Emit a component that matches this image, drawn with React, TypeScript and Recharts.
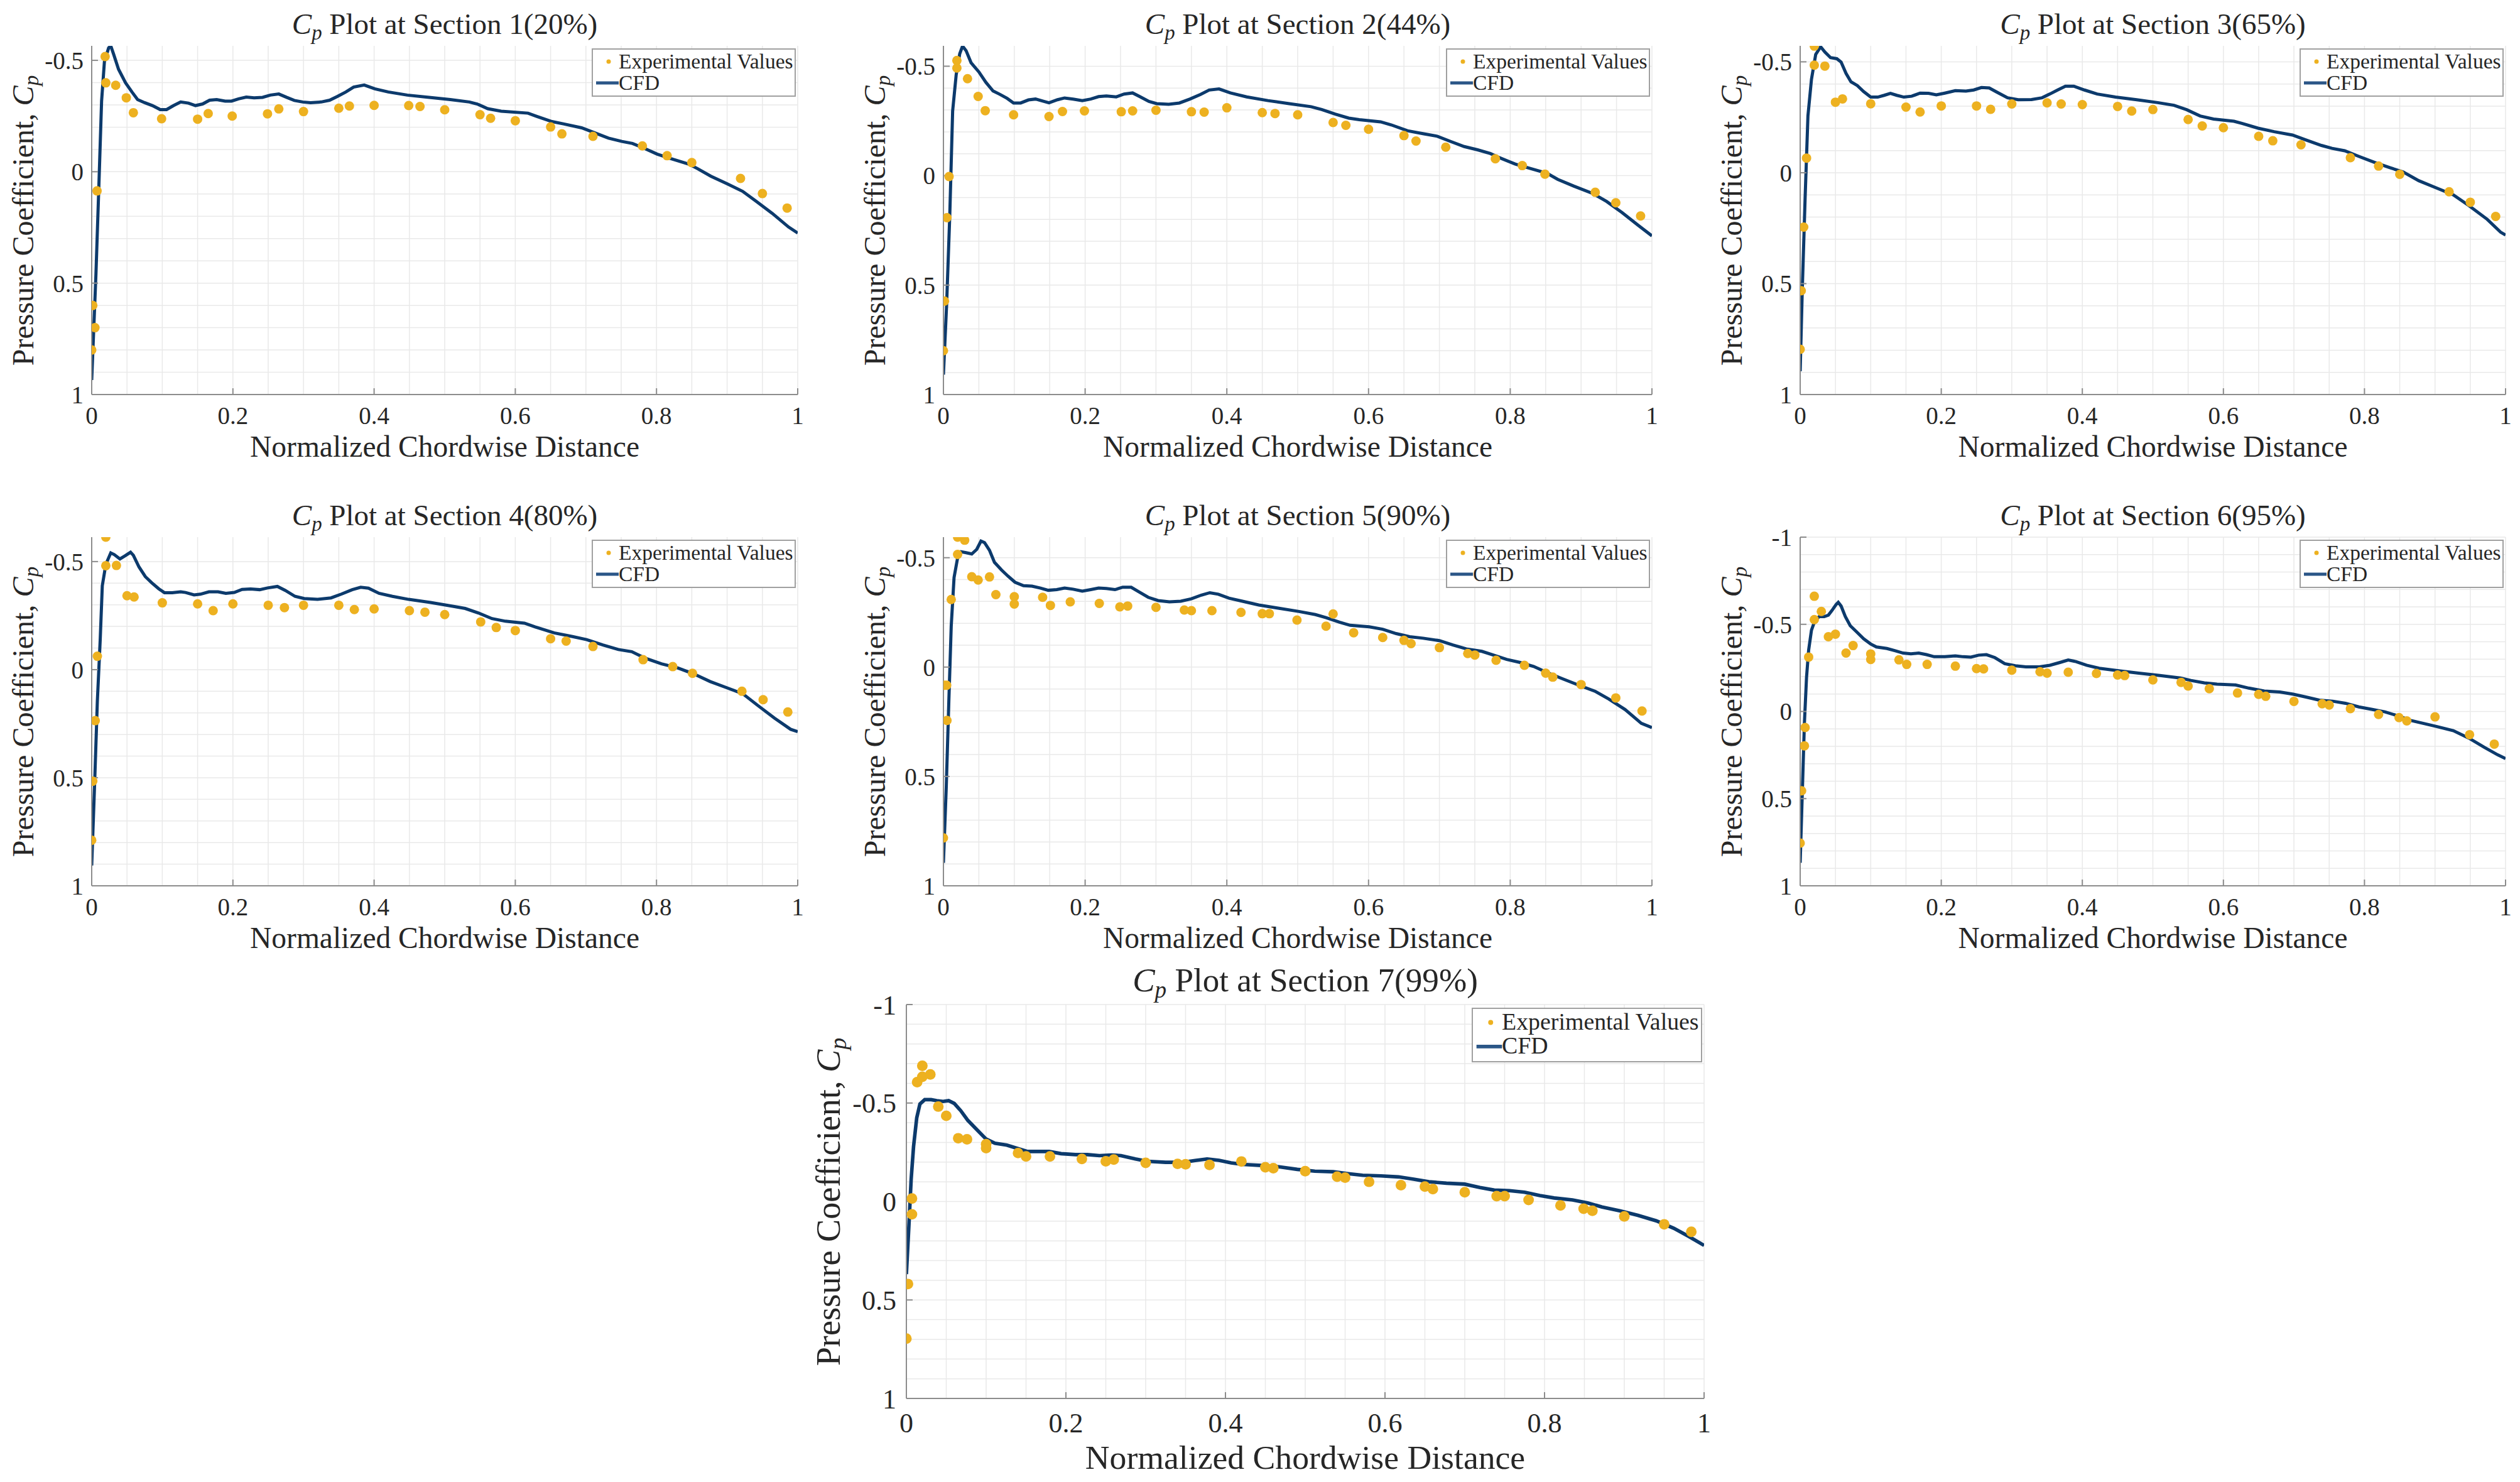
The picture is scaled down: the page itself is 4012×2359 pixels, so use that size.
import { ComposedChart, Line, Scatter, XAxis, YAxis, CartesianGrid } from "recharts";

type Pair = [number, number];

// ---- data (x = normalized chord, cp = pressure coefficient) ----
const sectionNames = [
  "Section 1(20%)",
  "Section 2(44%)",
  "Section 3(65%)",
  "Section 4(80%)",
  "Section 5(90%)",
  "Section 6(95%)",
  "Section 7(99%)",
];

const exp1: Pair[] = [
  [0, 0.8], [0.0046, 0.7], [0.0015, 0.6], [0.0076, 0.086], [0.019, -0.517], [0.02, -0.399],
  [0.034, -0.388], [0.049, -0.332], [0.059, -0.265], [0.099, -0.238], [0.15, -0.236], [0.165, -0.261],
  [0.199, -0.25], [0.249, -0.26], [0.265, -0.282], [0.3, -0.27], [0.35, -0.285], [0.365, -0.295],
  [0.4, -0.298], [0.449, -0.297], [0.465, -0.293], [0.5, -0.278], [0.55, -0.256], [0.565, -0.24],
  [0.6, -0.229], [0.65, -0.201], [0.666, -0.17], [0.71, -0.159], [0.78, -0.116], [0.815, -0.072],
  [0.85, -0.041], [0.919, 0.03], [0.95, 0.098], [0.985, 0.163],
];
const cfd1: Pair[] = [
  [0, 0.935], [0.006, 0.46], [0.01, 0.078], [0.014, -0.317], [0.018, -0.494], [0.024, -0.556],
  [0.027, -0.565], [0.031, -0.528], [0.038, -0.46], [0.048, -0.399], [0.057, -0.358], [0.065, -0.324],
  [0.075, -0.31], [0.086, -0.297], [0.097, -0.279], [0.106, -0.279], [0.116, -0.297], [0.126, -0.313],
  [0.137, -0.308], [0.147, -0.297], [0.157, -0.304], [0.167, -0.321], [0.177, -0.324], [0.189, -0.317],
  [0.198, -0.317], [0.208, -0.327], [0.219, -0.335], [0.23, -0.332], [0.242, -0.334], [0.253, -0.344],
  [0.265, -0.349], [0.276, -0.334], [0.287, -0.32], [0.299, -0.313], [0.31, -0.31], [0.325, -0.313],
  [0.337, -0.321], [0.348, -0.338], [0.36, -0.358], [0.371, -0.38], [0.386, -0.389], [0.401, -0.372],
  [0.42, -0.358], [0.447, -0.344], [0.478, -0.334], [0.508, -0.324], [0.535, -0.313], [0.546, -0.304],
  [0.561, -0.283], [0.58, -0.272], [0.618, -0.263], [0.63, -0.249], [0.652, -0.225], [0.668, -0.215],
  [0.694, -0.197], [0.713, -0.174], [0.732, -0.151], [0.751, -0.136], [0.766, -0.127], [0.782, -0.106],
  [0.801, -0.079], [0.82, -0.059], [0.846, -0.034], [0.858, -0.014], [0.877, 0.02], [0.9, 0.054],
  [0.922, 0.088], [0.941, 0.132], [0.964, 0.187], [0.987, 0.248], [1, 0.275],
];

const exp2: Pair[] = [
  [0, 0.8], [0.0015, 0.573], [0.005, 0.192], [0.008, 0.004], [0.019, -0.526], [0.019, -0.492],
  [0.034, -0.443], [0.049, -0.362], [0.059, -0.297], [0.099, -0.278], [0.149, -0.27], [0.168, -0.293],
  [0.199, -0.296], [0.251, -0.292], [0.267, -0.296], [0.3, -0.299], [0.35, -0.292], [0.368, -0.29],
  [0.4, -0.31], [0.45, -0.288], [0.468, -0.284], [0.5, -0.278], [0.55, -0.243], [0.568, -0.23],
  [0.6, -0.212], [0.65, -0.183], [0.667, -0.158], [0.709, -0.13], [0.779, -0.077], [0.817, -0.046],
  [0.849, -0.007], [0.92, 0.076], [0.949, 0.124], [0.984, 0.184],
];
const cfd2: Pair[] = [
  [0, 0.909], [0.0045, 0.59], [0.009, 0.176], [0.013, -0.295], [0.018, -0.461], [0.023, -0.557],
  [0.027, -0.592], [0.032, -0.571], [0.039, -0.516], [0.05, -0.474], [0.06, -0.426], [0.07, -0.387],
  [0.08, -0.371], [0.09, -0.353], [0.099, -0.332], [0.109, -0.332], [0.12, -0.346], [0.13, -0.35],
  [0.141, -0.34], [0.149, -0.333], [0.161, -0.347], [0.171, -0.355], [0.183, -0.35], [0.196, -0.343],
  [0.208, -0.35], [0.219, -0.361], [0.23, -0.364], [0.244, -0.36], [0.255, -0.373], [0.267, -0.378],
  [0.278, -0.36], [0.29, -0.339], [0.301, -0.329], [0.318, -0.326], [0.333, -0.332], [0.348, -0.35],
  [0.363, -0.371], [0.375, -0.391], [0.389, -0.396], [0.405, -0.378], [0.428, -0.36], [0.458, -0.343],
  [0.488, -0.329], [0.519, -0.315], [0.534, -0.302], [0.553, -0.281], [0.572, -0.263], [0.587, -0.256],
  [0.617, -0.246], [0.632, -0.232], [0.655, -0.205], [0.678, -0.191], [0.697, -0.18], [0.716, -0.156],
  [0.735, -0.133], [0.754, -0.118], [0.772, -0.101], [0.784, -0.083], [0.807, -0.053], [0.829, -0.032],
  [0.852, -0.011], [0.867, 0.017], [0.89, 0.048], [0.917, 0.082], [0.936, 0.118], [0.958, 0.169],
  [0.981, 0.228], [1, 0.275],
];

const exp3: Pair[] = [
  [0, 0.796], [0.0015, 0.532], [0.005, 0.245], [0.009, -0.066], [0.02, -0.571], [0.02, -0.485],
  [0.035, -0.481], [0.05, -0.318], [0.06, -0.333], [0.1, -0.311], [0.15, -0.296], [0.17, -0.274],
  [0.2, -0.301], [0.25, -0.301], [0.27, -0.286], [0.3, -0.31], [0.35, -0.315], [0.37, -0.31],
  [0.4, -0.307], [0.45, -0.299], [0.47, -0.278], [0.5, -0.285], [0.55, -0.24], [0.57, -0.211],
  [0.6, -0.203], [0.65, -0.164], [0.67, -0.144], [0.71, -0.126], [0.78, -0.068], [0.82, -0.03],
  [0.85, 0.007], [0.92, 0.086], [0.95, 0.133], [0.986, 0.197],
];
const cfd3: Pair[] = [
  [0, 0.895], [0.003, 0.525], [0.007, 0.114], [0.011, -0.256], [0.016, -0.421], [0.022, -0.533],
  [0.029, -0.568], [0.035, -0.544], [0.043, -0.519], [0.052, -0.514], [0.058, -0.499], [0.065, -0.448],
  [0.072, -0.41], [0.081, -0.393], [0.09, -0.366], [0.1, -0.341], [0.11, -0.341], [0.119, -0.349],
  [0.128, -0.358], [0.137, -0.349], [0.147, -0.341], [0.158, -0.345], [0.17, -0.359], [0.182, -0.358],
  [0.193, -0.351], [0.205, -0.359], [0.22, -0.37], [0.235, -0.368], [0.246, -0.373], [0.257, -0.384],
  [0.268, -0.382], [0.279, -0.363], [0.294, -0.338], [0.309, -0.329], [0.328, -0.33], [0.343, -0.338],
  [0.354, -0.355], [0.365, -0.373], [0.376, -0.39], [0.388, -0.39], [0.403, -0.373], [0.421, -0.355],
  [0.447, -0.341], [0.477, -0.329], [0.507, -0.316], [0.53, -0.304], [0.548, -0.284], [0.567, -0.256],
  [0.586, -0.242], [0.615, -0.232], [0.627, -0.222], [0.649, -0.201], [0.672, -0.185], [0.698, -0.17],
  [0.716, -0.149], [0.739, -0.123], [0.754, -0.11], [0.772, -0.099], [0.791, -0.075], [0.814, -0.047],
  [0.836, -0.023], [0.855, -0.003], [0.877, 0.036], [0.9, 0.066], [0.926, 0.1], [0.948, 0.148],
  [0.974, 0.21], [0.993, 0.268], [1, 0.281],
];

const exp4: Pair[] = [
  [0, 0.789], [0.0015, 0.516], [0.005, 0.236], [0.008, -0.062], [0.02, -0.613], [0.02, -0.481],
  [0.035, -0.482], [0.05, -0.342], [0.06, -0.336], [0.1, -0.309], [0.15, -0.304], [0.172, -0.273],
  [0.2, -0.304], [0.25, -0.298], [0.273, -0.287], [0.3, -0.298], [0.35, -0.298], [0.372, -0.278],
  [0.4, -0.281], [0.45, -0.273], [0.472, -0.266], [0.5, -0.255], [0.551, -0.221], [0.573, -0.195],
  [0.6, -0.181], [0.65, -0.143], [0.672, -0.132], [0.71, -0.107], [0.781, -0.046], [0.823, -0.014],
  [0.851, 0.017], [0.921, 0.1], [0.951, 0.139], [0.986, 0.196],
];
const cfd4: Pair[] = [
  [0, 0.906], [0.004, 0.54], [0.008, 0.146], [0.012, -0.135], [0.015, -0.388], [0.02, -0.487],
  [0.027, -0.54], [0.032, -0.532], [0.04, -0.512], [0.047, -0.526], [0.055, -0.543], [0.059, -0.529],
  [0.067, -0.475], [0.076, -0.43], [0.085, -0.402], [0.095, -0.374], [0.103, -0.356], [0.114, -0.356],
  [0.126, -0.36], [0.133, -0.357], [0.145, -0.346], [0.154, -0.349], [0.166, -0.36], [0.179, -0.36],
  [0.19, -0.353], [0.202, -0.357], [0.213, -0.371], [0.225, -0.373], [0.238, -0.37], [0.249, -0.378],
  [0.263, -0.385], [0.274, -0.367], [0.288, -0.339], [0.301, -0.329], [0.32, -0.325], [0.339, -0.332],
  [0.354, -0.35], [0.369, -0.37], [0.381, -0.381], [0.392, -0.377], [0.407, -0.353], [0.426, -0.339],
  [0.449, -0.325], [0.48, -0.311], [0.51, -0.294], [0.529, -0.283], [0.548, -0.262], [0.567, -0.236],
  [0.586, -0.224], [0.613, -0.215], [0.628, -0.198], [0.655, -0.17], [0.681, -0.153], [0.701, -0.139],
  [0.724, -0.114], [0.746, -0.093], [0.765, -0.083], [0.784, -0.053], [0.807, -0.027], [0.83, -0.008],
  [0.853, 0.02], [0.876, 0.055], [0.899, 0.083], [0.922, 0.111], [0.944, 0.167], [0.967, 0.224],
  [0.99, 0.276], [1, 0.287],
];

const exp5: Pair[] = [
  [0, 0.781], [0.0015, 0.083], [0.0046, 0.083], [0.005, 0.244], [0.011, -0.309], [0.02, -0.594],
  [0.02, -0.515], [0.03, -0.58], [0.04, -0.413], [0.049, -0.398], [0.065, -0.412], [0.074, -0.331],
  [0.1, -0.322], [0.1, -0.288], [0.14, -0.319], [0.151, -0.282], [0.179, -0.298], [0.22, -0.291],
  [0.249, -0.275], [0.26, -0.279], [0.3, -0.273], [0.34, -0.261], [0.35, -0.258], [0.379, -0.258],
  [0.42, -0.25], [0.45, -0.244], [0.46, -0.244], [0.499, -0.215], [0.54, -0.187], [0.55, -0.243],
  [0.579, -0.157], [0.62, -0.135], [0.65, -0.122], [0.66, -0.107], [0.7, -0.089], [0.74, -0.062],
  [0.75, -0.055], [0.78, -0.031], [0.82, -0.008], [0.85, 0.028], [0.86, 0.046], [0.9, 0.08],
  [0.949, 0.141], [0.986, 0.201],
];
const cfd5: Pair[] = [
  [0, 0.895], [0.004, 0.548], [0.0076, 0.16], [0.011, -0.187], [0.015, -0.409], [0.02, -0.499],
  [0.025, -0.527], [0.032, -0.523], [0.04, -0.517], [0.047, -0.538], [0.053, -0.576], [0.058, -0.569],
  [0.065, -0.534], [0.072, -0.479], [0.082, -0.444], [0.091, -0.416], [0.101, -0.388], [0.113, -0.372],
  [0.125, -0.37], [0.137, -0.361], [0.148, -0.351], [0.16, -0.354], [0.171, -0.361], [0.183, -0.356],
  [0.196, -0.347], [0.208, -0.354], [0.219, -0.361], [0.23, -0.359], [0.242, -0.354], [0.253, -0.365],
  [0.265, -0.365], [0.276, -0.344], [0.289, -0.319], [0.303, -0.304], [0.319, -0.298], [0.335, -0.301],
  [0.35, -0.312], [0.364, -0.329], [0.376, -0.34], [0.388, -0.333], [0.403, -0.315], [0.422, -0.301],
  [0.445, -0.284], [0.471, -0.27], [0.502, -0.254], [0.525, -0.24], [0.54, -0.226], [0.559, -0.205],
  [0.574, -0.191], [0.601, -0.184], [0.62, -0.173], [0.639, -0.153], [0.658, -0.139], [0.677, -0.132],
  [0.7, -0.121], [0.719, -0.101], [0.738, -0.083], [0.76, -0.072], [0.776, -0.055], [0.795, -0.035],
  [0.814, -0.021], [0.833, -0.003], [0.852, 0.025], [0.875, 0.055], [0.897, 0.083], [0.92, 0.111],
  [0.939, 0.146], [0.962, 0.194], [0.985, 0.257], [1, 0.277],
];

const exp6: Pair[] = [
  [0, 0.755], [0.002, 0.455], [0.006, 0.197], [0.007, 0.092], [0.012, -0.312], [0.02, -0.661],
  [0.02, -0.527], [0.03, -0.574], [0.04, -0.429], [0.05, -0.443], [0.065, -0.335], [0.075, -0.378],
  [0.1, -0.33], [0.1, -0.298], [0.14, -0.296], [0.151, -0.27], [0.18, -0.27], [0.22, -0.26],
  [0.25, -0.246], [0.26, -0.244], [0.3, -0.237], [0.34, -0.228], [0.35, -0.22], [0.38, -0.225],
  [0.42, -0.218], [0.45, -0.209], [0.46, -0.206], [0.5, -0.181], [0.54, -0.167], [0.55, -0.146],
  [0.58, -0.131], [0.62, -0.106], [0.65, -0.098], [0.66, -0.087], [0.7, -0.058], [0.74, -0.044],
  [0.75, -0.037], [0.78, -0.016], [0.82, 0.017], [0.849, 0.035], [0.86, 0.054], [0.9, 0.031],
  [0.949, 0.133], [0.984, 0.187],
];
const cfd6: Pair[] = [
  [0, 0.868], [0.003, 0.467], [0.006, 0.066], [0.009, -0.195], [0.012, -0.352], [0.016, -0.466],
  [0.021, -0.523], [0.027, -0.544], [0.034, -0.544], [0.04, -0.553], [0.045, -0.579], [0.051, -0.614],
  [0.054, -0.626], [0.058, -0.605], [0.064, -0.544], [0.071, -0.492], [0.08, -0.457], [0.09, -0.417],
  [0.1, -0.387], [0.108, -0.37], [0.123, -0.361], [0.134, -0.349], [0.146, -0.335], [0.157, -0.331],
  [0.168, -0.335], [0.179, -0.326], [0.19, -0.314], [0.205, -0.314], [0.22, -0.319], [0.231, -0.314],
  [0.242, -0.312], [0.253, -0.323], [0.264, -0.326], [0.276, -0.309], [0.29, -0.274], [0.305, -0.262],
  [0.32, -0.256], [0.339, -0.256], [0.354, -0.265], [0.369, -0.282], [0.38, -0.295], [0.391, -0.286],
  [0.406, -0.265], [0.424, -0.248], [0.45, -0.234], [0.48, -0.22], [0.51, -0.206], [0.539, -0.192],
  [0.554, -0.178], [0.573, -0.164], [0.591, -0.157], [0.617, -0.152], [0.636, -0.134], [0.658, -0.117],
  [0.68, -0.112], [0.699, -0.099], [0.718, -0.082], [0.736, -0.065], [0.755, -0.059], [0.773, -0.047],
  [0.792, -0.026], [0.811, -0.012], [0.829, 0.002], [0.848, 0.026], [0.866, 0.052], [0.885, 0.07],
  [0.903, 0.087], [0.926, 0.11], [0.948, 0.153], [0.97, 0.206], [0.989, 0.249], [1, 0.27],
];

const exp7: Pair[] = [
  [0, 0.696], [0.002, 0.419], [0.007, 0.065], [0.007, -0.015], [0.0135, -0.606], [0.02, -0.689],
  [0.02, -0.633], [0.03, -0.645], [0.04, -0.482], [0.05, -0.435], [0.065, -0.321], [0.076, -0.316],
  [0.1, -0.291], [0.1, -0.271], [0.14, -0.246], [0.15, -0.229], [0.18, -0.229], [0.22, -0.216],
  [0.25, -0.204], [0.26, -0.213], [0.3, -0.196], [0.34, -0.191], [0.35, -0.189], [0.38, -0.186],
  [0.42, -0.203], [0.45, -0.174], [0.46, -0.169], [0.5, -0.154], [0.54, -0.126], [0.55, -0.121],
  [0.58, -0.1], [0.62, -0.083], [0.65, -0.076], [0.66, -0.063], [0.7, -0.047], [0.74, -0.027],
  [0.75, -0.027], [0.78, -0.008], [0.82, 0.02], [0.849, 0.037], [0.86, 0.047], [0.9, 0.076],
  [0.95, 0.116], [0.984, 0.154],
];
const cfd7: Pair[] = [
  [0, 0.369], [0.003, 0.136], [0.006, -0.113], [0.009, -0.279], [0.013, -0.425], [0.017, -0.495],
  [0.023, -0.517], [0.031, -0.517], [0.038, -0.512], [0.046, -0.508], [0.053, -0.512], [0.06, -0.498],
  [0.068, -0.462], [0.077, -0.412], [0.089, -0.362], [0.1, -0.317], [0.111, -0.296], [0.126, -0.286],
  [0.141, -0.267], [0.152, -0.254], [0.164, -0.254], [0.179, -0.254], [0.194, -0.243], [0.212, -0.238],
  [0.227, -0.238], [0.242, -0.233], [0.257, -0.236], [0.269, -0.233], [0.287, -0.216], [0.302, -0.204],
  [0.325, -0.199], [0.347, -0.199], [0.362, -0.208], [0.377, -0.216], [0.392, -0.209], [0.407, -0.196],
  [0.422, -0.188], [0.445, -0.183], [0.467, -0.176], [0.49, -0.163], [0.512, -0.154], [0.535, -0.151],
  [0.554, -0.141], [0.572, -0.133], [0.595, -0.13], [0.617, -0.125], [0.636, -0.113], [0.655, -0.1],
  [0.677, -0.093], [0.7, -0.088], [0.719, -0.071], [0.737, -0.058], [0.756, -0.055], [0.775, -0.047],
  [0.794, -0.03], [0.812, -0.018], [0.835, -0.008], [0.854, 0.007], [0.872, 0.028], [0.895, 0.048],
  [0.917, 0.07], [0.94, 0.098], [0.962, 0.136], [0.981, 0.178], [1, 0.223],
];

const xTicks = [0, 0.2, 0.4, 0.6, 0.8, 1];
const yTicksShort = [-0.5, 0, 0.5, 1];
const yTicksLong = [-1, -0.5, 0, 0.5, 1];
const xGrid = [0, 0.05, 0.1, 0.15, 0.2, 0.25, 0.3, 0.35, 0.4, 0.45, 0.5, 0.55, 0.6, 0.65, 0.7, 0.75, 0.8, 0.85, 0.9, 0.95, 1];
const yGridShort = [-0.5, -0.4, -0.3, -0.2, -0.1, 0, 0.1, 0.2, 0.3, 0.4, 0.5, 0.6, 0.7, 0.8, 0.9, 1];
const yGridLong = [-1, -0.9, -0.8, -0.7, -0.6, -0.5, -0.4, -0.3, -0.2, -0.1, 0, 0.1, 0.2, 0.3, 0.4, 0.5, 0.6, 0.7, 0.8, 0.9, 1];

const EXP_COLOR = "#EDB120";
const CFD_COLOR = "#0c3a6c";
const AXIS_COLOR = "#8c8c8c";
const TEXT_COLOR = "#262626";
const FONT = "'Liberation Serif', 'DejaVu Serif', serif";

const toPts = (arr: Pair[]) => arr.map(([x, cp]) => ({ x, cp }));

interface PanelCfg {
  name: string;
  exp: Pair[];
  cfd: Pair[];
  yMin: number;
  yTicks: number[];
  yGrid: number[];
  rect: { x: number; y: number; w: number; h: number };
  s: number;
}

const panels: PanelCfg[] = [
  { name: sectionNames[0], exp: exp1, cfd: cfd1, yMin: -0.565, yTicks: yTicksShort, yGrid: yGridShort, rect: { x: 146, y: 73, w: 1124, h: 555 }, s: 1 },
  { name: sectionNames[1], exp: exp2, cfd: cfd2, yMin: -0.593, yTicks: yTicksShort, yGrid: yGridShort, rect: { x: 1502, y: 73, w: 1128, h: 555 }, s: 1 },
  { name: sectionNames[2], exp: exp3, cfd: cfd3, yMin: -0.572, yTicks: yTicksShort, yGrid: yGridShort, rect: { x: 2866, y: 73, w: 1123, h: 555 }, s: 1 },
  { name: sectionNames[3], exp: exp4, cfd: cfd4, yMin: -0.613, yTicks: yTicksShort, yGrid: yGridShort, rect: { x: 146, y: 855, w: 1124, h: 555 }, s: 1 },
  { name: sectionNames[4], exp: exp5, cfd: cfd5, yMin: -0.594, yTicks: yTicksShort, yGrid: yGridShort, rect: { x: 1502, y: 855, w: 1128, h: 555 }, s: 1 },
  { name: sectionNames[5], exp: exp6, cfd: cfd6, yMin: -1, yTicks: yTicksLong, yGrid: yGridLong, rect: { x: 2866, y: 855, w: 1123, h: 555 }, s: 1 },
  { name: sectionNames[6], exp: exp7, cfd: cfd7, yMin: -1, yTicks: yTicksLong, yGrid: yGridLong, rect: { x: 1443, y: 1599, w: 1270, h: 627 }, s: 1.13 },
];

const Cp = () => (
  <span>
    <i>C</i>
    <sub style={{ fontSize: "0.7em", fontStyle: "italic", verticalAlign: "-0.25em" }}>p</sub>
  </span>
);

const Panel = ({ cfg }: { cfg: PanelCfg }) => {
  const { x, y, w, h } = cfg.rect;
  const s = cfg.s;
  const ML = 140;
  const MT = 40;
  const MR = 30;
  const MB = 70 * s;
  const tickFont = 39 * s;

  return (
    <>
      <div style={{ position: "absolute", left: x - ML, top: y - MT }}>
        <ComposedChart width={w + ML + MR} height={h + MT + MB} margin={{ top: MT, right: MR, bottom: 0, left: 0 }}>
          <CartesianGrid stroke="#e9e9e9" strokeWidth={1.5} verticalValues={xGrid} horizontalValues={cfg.yGrid} />
          <XAxis
            type="number"
            dataKey="x"
            domain={[0, 1]}
            ticks={xTicks}
            interval={0}
            height={MB}
            allowDataOverflow
            axisLine={{ stroke: AXIS_COLOR, strokeWidth: 2 }}
            tickLine={{ stroke: AXIS_COLOR, strokeWidth: 2 }}
            tickSize={-10}
            tickMargin={29 * s}
            tick={{ fill: TEXT_COLOR, fontSize: tickFont, fontFamily: FONT }}
            tickFormatter={(v: number) => String(v)}
          />
          <YAxis
            type="number"
            dataKey="cp"
            domain={[cfg.yMin, 1]}
            ticks={cfg.yTicks}
            interval={0}
            reversed
            width={ML}
            allowDataOverflow
            axisLine={{ stroke: AXIS_COLOR, strokeWidth: 2 }}
            tickLine={{ stroke: AXIS_COLOR, strokeWidth: 2 }}
            tickSize={-10}
            tickMargin={23 * s}
            tick={{ fill: TEXT_COLOR, fontSize: tickFont, fontFamily: FONT }}
            tickFormatter={(v: number) => String(v)}
          />
          <Scatter
            data={toPts(cfg.exp)}
            dataKey="cp"
            isAnimationActive={false}
            shape={(p: any) => <circle cx={p.cx} cy={p.cy} r={7.5 * s} fill={EXP_COLOR} />}
          />
          <Line
            data={toPts(cfg.cfd)}
            dataKey="cp"
            type="linear"
            stroke={CFD_COLOR}
            strokeWidth={5 * s}
            dot={false}
            activeDot={false}
            isAnimationActive={false}
          />
        </ComposedChart>
      </div>

      {/* title */}
      <div
        style={{
          position: "absolute",
          left: x + w / 2,
          top: y - 31 * s,
          transform: "translate(-50%, -50%)",
          whiteSpace: "nowrap",
          fontFamily: FONT,
          fontSize: 47 * s,
          color: TEXT_COLOR,
          lineHeight: 1,
        }}
      >
        <Cp /> Plot at {cfg.name}
      </div>

      {/* x label */}
      <div
        style={{
          position: "absolute",
          left: x + w / 2,
          top: y + h + 84 * s,
          transform: "translate(-50%, -50%)",
          whiteSpace: "nowrap",
          fontFamily: FONT,
          fontSize: 47.5 * s,
          color: TEXT_COLOR,
          lineHeight: 1,
        }}
      >
        Normalized Chordwise Distance
      </div>

      {/* y label */}
      <div
        style={{
          position: "absolute",
          left: x - 106 * s,
          top: y + h / 2,
          transform: "translate(-50%, -50%) rotate(-90deg)",
          whiteSpace: "nowrap",
          fontFamily: FONT,
          fontSize: 48 * s,
          color: TEXT_COLOR,
          lineHeight: 1,
        }}
      >
        Pressure Coefficient, <Cp />
      </div>

      {/* legend */}
      <div
        style={{
          position: "absolute",
          left: x + w - 3 - 325 * s,
          top: y + 4 * s,
          width: 325 * s,
          height: 77 * s,
          boxSizing: "border-box",
          border: `2px solid #a0a0a0`,
          background: "#fff",
          fontFamily: FONT,
          fontSize: 33.5 * s,
          color: TEXT_COLOR,
        }}
      >
        <svg width={44 * s} height={73 * s} style={{ position: "absolute", left: 0, top: 0 }}>
          <circle cx={25 * s} cy={19 * s} r={3.5 * s} fill={EXP_COLOR} />
          <line x1={5 * s} x2={41 * s} y1={53 * s} y2={53 * s} stroke="#2b5687" strokeWidth={5 * s} />
        </svg>
        <div style={{ position: "absolute", left: 41 * s, top: 19 * s, transform: "translateY(-50%)", whiteSpace: "nowrap", lineHeight: 1 }}>
          Experimental Values
        </div>
        <div style={{ position: "absolute", left: 41 * s, top: 53 * s, transform: "translateY(-50%)", whiteSpace: "nowrap", lineHeight: 1 }}>
          CFD
        </div>
      </div>
    </>
  );
};

export default function App() {
  return (
    <div style={{ position: "absolute", left: 0, top: 0, width: 4012, height: 2359, background: "#fff", overflow: "hidden" }}>
      {panels.map((p) => (
        <Panel key={p.name} cfg={p} />
      ))}
    </div>
  );
}
